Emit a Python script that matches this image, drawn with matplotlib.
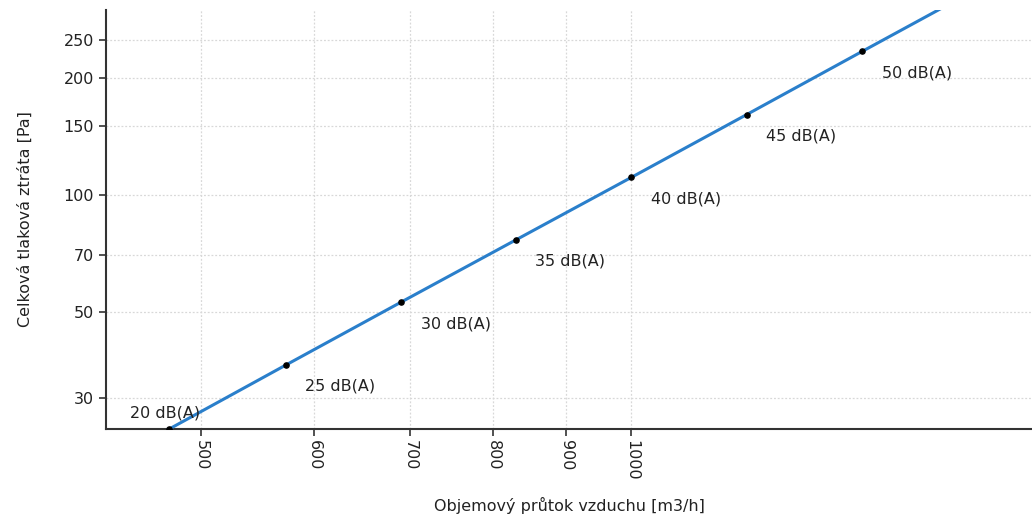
import numpy as np
import matplotlib
matplotlib.use("Agg")
import matplotlib.pyplot as plt
from matplotlib.ticker import FixedLocator, NullLocator, FixedFormatter

# operating points
flow = [475, 573, 690, 830, 1000, 1204, 1450]          # m3/h
pressure = [25.0, 36.5, 53.0, 76.6, 111, 161, 234]    # Pa
labels = ["20 dB(A)", "25 dB(A)", "30 dB(A)", "35 dB(A)", "40 dB(A)", "45 dB(A)", "50 dB(A)"]

# system curve (passes through the points and runs to the top edge)
curve_flow = [460, 475, 573, 690, 830, 1000, 1204, 1450, 1650]
curve_pressure = [23.4, 25.0, 36.5, 53.0, 76.6, 111, 161, 234, 303]

xticks = [500, 600, 700, 800, 900, 1000]
yticks = [30, 50, 70, 100, 150, 200, 250]

plt.rcParams['font.family'] = ['DejaVu Sans']
fig = plt.figure(figsize=(10.32, 5.21), dpi=100)
ax = fig.add_axes([106 / 1032, 1 - 429 / 521, 926 / 1032, 419 / 521])

ax.set_xscale("log")
ax.set_yscale("log")
ax.set_xlim(429, 1906)
ax.set_ylim(25, 299)

ax.plot(curve_flow, curve_pressure, color="#2a7fcb", lw=2.2, solid_capstyle="butt", zorder=3)
ax.scatter(flow, pressure, s=14, color="black", zorder=4)

for i, (x, y, t) in enumerate(zip(flow, pressure, labels)):
    if i == 0:
        ax.annotate(t, (x, y), xytext=(-28, 6), textcoords="offset points",
                    fontsize=11.5, color="#222222", ha="left", va="bottom")
    else:
        ax.annotate(t, (x, y), xytext=(14, -10), textcoords="offset points",
                    fontsize=11.5, color="#222222", ha="left", va="top")

ax.xaxis.set_major_locator(FixedLocator(xticks))
ax.xaxis.set_major_formatter(FixedFormatter([str(v) for v in xticks]))
ax.xaxis.set_minor_locator(NullLocator())
ax.yaxis.set_major_locator(FixedLocator(yticks))
ax.yaxis.set_major_formatter(FixedFormatter([str(v) for v in yticks]))
ax.yaxis.set_minor_locator(NullLocator())

ax.tick_params(axis="both", length=5, width=1.2, color="#333333", labelsize=11.5, labelcolor="#222222")
ax.tick_params(axis="x", labelrotation=-90, pad=3)
for lab in ax.get_xticklabels():
    lab.set_va("top")

ax.grid(True, color="#d8d8d8", linestyle=(0, (1.5, 1.5)), linewidth=0.9)
ax.set_axisbelow(True)

ax.spines["top"].set_visible(False)
ax.spines["right"].set_visible(False)
ax.spines["left"].set_linewidth(1.5)
ax.spines["bottom"].set_linewidth(1.5)
ax.spines["left"].set_color("#333333")
ax.spines["bottom"].set_color("#333333")

ax.set_xlabel("Objemový průtok vzduchu [m3/h]", fontsize=11.5, color="#222222", labelpad=12)
ax.set_ylabel("Celková tlaková ztráta [Pa]", fontsize=11.5, color="#222222", labelpad=22)

fig.savefig("out.png", dpi=100)
